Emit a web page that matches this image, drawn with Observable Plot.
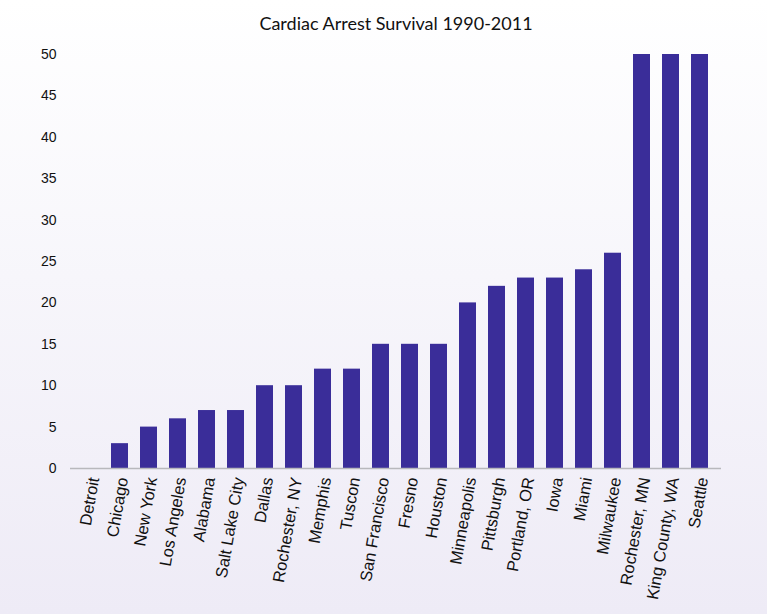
<!DOCTYPE html>
<html>
<head>
<meta charset="utf-8">
<script src="https://cdn.jsdelivr.net/npm/d3@7"></script>
<script src="https://cdn.jsdelivr.net/npm/@observablehq/plot@0.6"></script>
<style>
  html, body { margin: 0; padding: 0; }
  #wrap {
    width: 767px; height: 614px; overflow: hidden;
    background: linear-gradient(to bottom, #ffffff 0%, #f7f6fb 45%, #eeebf6 100%);
  }
  #title {
    height: 40px; box-sizing: border-box; padding-top: 14px; padding-left: 25px;
    text-align: center; font-family: Lato, "Open Sans", sans-serif; font-size: 18px;
    color: #111; line-height: 19px;
  }
  svg { display: block; background: transparent !important; }
</style>
</head>
<body>
<div id="wrap">
  <div id="title">Cardiac Arrest Survival 1990-2011</div>
  <div id="chart"></div>
</div>
<script>
const cities = ["Detroit", "Chicago", "New York", "Los Angeles", "Alabama", "Salt Lake City", "Dallas", "Rochester, NY", "Memphis", "Tuscon", "San Francisco", "Fresno", "Houston", "Minneapolis", "Pittsburgh", "Portland, OR", "Iowa", "Miami", "Milwaukee", "Rochester, MN", "King County, WA", "Seattle"];
const survival = [0, 3, 5, 6, 7, 7, 10, 10, 12, 12, 15, 15, 15, 20, 22, 23, 23, 24, 26, 50, 50, 50];
const yTicks = [0, 5, 10, 15, 20, 25, 30, 35, 40, 45, 50];

const data = cities.map((c, i) => ({city: c, value: survival[i]}));

const chart = Plot.plot({
  width: 767,
  height: 574,
  marginTop: 14,
  marginBottom: 146,
  marginLeft: 70,
  marginRight: 46,
  style: {background: "transparent", fontFamily: "'Liberation Sans', Arial, sans-serif"},
  x: {domain: cities, paddingInner: 0.4, paddingOuter: 0.2, label: null},
  y: {domain: [0, 50], label: null},
  marks: [
    Plot.ruleY(yTicks.filter(d => d > 0), {stroke: "#c9c9cc", strokeWidth: 1.3, x1: 70, x2: 723}),
    Plot.barY(data, {x: "city", y: "value", fill: "#3a2d99"}),
    Plot.ruleY([0], {stroke: "#b8b8bc", strokeWidth: 1.3}),
    Plot.axisY({ticks: yTicks, tickSize: 0, tickPadding: 14, fontSize: 14, label: null, color: "#111"}),
    Plot.axisX({tickSize: 0, tickPadding: 9, tickRotate: -80, fontSize: 16.5, dx: 3, label: null, color: "#111"})
  ]
});
document.getElementById("chart").appendChild(chart);
</script>
</body>
</html>
